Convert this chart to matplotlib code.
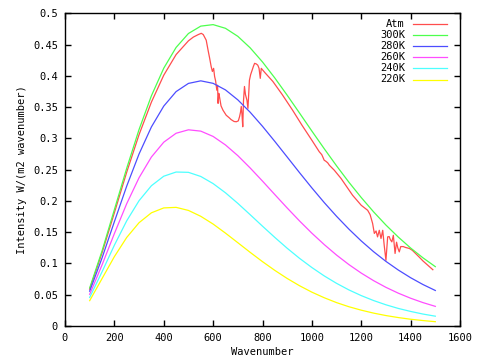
import matplotlib
matplotlib.use('Agg')
import matplotlib.pyplot as plt

# Planck curves (wavenumber, intensity)
wn = [100, 150, 200, 250, 300, 350, 400, 450, 500, 550, 600, 650, 700, 750,
      800, 850, 900, 950, 1000, 1050, 1100, 1150, 1200, 1250, 1300, 1350,
      1400, 1450, 1500]
t300 = [0.0608, 0.1199, 0.1860, 0.2523, 0.3142, 0.3681, 0.4122, 0.4454, 0.4677,
        0.4795, 0.4819, 0.4760, 0.4632, 0.4448, 0.4222, 0.3965, 0.3690, 0.3405,
        0.3117, 0.2835, 0.2561, 0.2299, 0.2054, 0.1825, 0.1614, 0.1422, 0.1247,
        0.1090, 0.0949]
t280 = [0.0557, 0.1087, 0.1668, 0.2237, 0.2751, 0.3183, 0.3516, 0.3748, 0.3879,
        0.3920, 0.3880, 0.3775, 0.3616, 0.3418, 0.3193, 0.2951, 0.2702, 0.2452,
        0.2208, 0.1974, 0.1754, 0.1549, 0.1360, 0.1188, 0.1033, 0.0895, 0.0772,
        0.0663, 0.0568]
t260 = [0.0506, 0.0976, 0.1478, 0.1956, 0.2371, 0.2702, 0.2939, 0.3082, 0.3137,
        0.3116, 0.3031, 0.2895, 0.2724, 0.2527, 0.2317, 0.2101, 0.1887, 0.1680,
        0.1484, 0.1302, 0.1134, 0.0982, 0.0846, 0.0725, 0.0618, 0.0525, 0.0444,
        0.0374, 0.0314]
t240 = [0.0456, 0.0866, 0.1292, 0.1682, 0.2004, 0.2243, 0.2395, 0.2462, 0.2457,
        0.2391, 0.2277, 0.2130, 0.1961, 0.1780, 0.1596, 0.1416, 0.1243, 0.1082,
        0.0935, 0.0801, 0.0682, 0.0577, 0.0486, 0.0407, 0.0339, 0.0281, 0.0233,
        0.0191, 0.0157]
t220 = [0.0405, 0.0758, 0.1109, 0.1416, 0.1652, 0.1810, 0.1888, 0.1897, 0.1848,
        0.1754, 0.1630, 0.1485, 0.1332, 0.1178, 0.1029, 0.0889, 0.0760, 0.0644,
        0.0541, 0.0452, 0.0374, 0.0308, 0.0253, 0.0206, 0.0167, 0.0135, 0.0108,
        0.0087, 0.0069]

# atmosphere spectrum
atm_wn = [100, 150, 200, 250, 300, 350, 400, 450, 500, 520, 540, 552, 560, 572,
          580, 586, 592, 597, 602, 606, 610, 615, 618, 620, 623, 626, 632, 640,
          653, 665, 673, 685, 694, 702, 707, 711, 714, 717, 720, 723, 727, 731,
          737, 741, 744, 747, 752, 758, 763, 768, 775, 781, 786, 791, 795, 810,
          842, 880, 922, 960, 1000, 1030, 1040, 1044, 1050, 1056, 1064, 1071,
          1091, 1118, 1165, 1200, 1226, 1236, 1246, 1253, 1260, 1266, 1273,
          1280, 1287, 1293, 1300, 1307, 1313, 1318, 1324, 1330, 1337, 1343,
          1348, 1354, 1360, 1370, 1380, 1395, 1407, 1420, 1434, 1450, 1470, 1490]
atm = [0.059, 0.117, 0.181, 0.246, 0.306, 0.358, 0.401, 0.434, 0.456, 0.462,
       0.466, 0.468, 0.466, 0.457, 0.440, 0.428, 0.415, 0.407, 0.412, 0.399,
       0.392, 0.377, 0.385, 0.356, 0.372, 0.366, 0.352, 0.345, 0.337, 0.333,
       0.330, 0.327, 0.3266, 0.328, 0.3346, 0.342, 0.351, 0.338, 0.3186, 0.360,
       0.383, 0.370, 0.361, 0.348, 0.370, 0.393, 0.402, 0.409, 0.415, 0.420,
       0.419, 0.417, 0.412, 0.396, 0.412, 0.405, 0.391, 0.370, 0.345, 0.321,
       0.297, 0.2786, 0.274, 0.2705, 0.265, 0.2636, 0.261, 0.257, 0.249, 0.236,
       0.209, 0.193, 0.185, 0.178, 0.164, 0.148, 0.152, 0.1425, 0.153, 0.140,
       0.153, 0.129, 0.105, 0.1425, 0.143, 0.138, 0.1345, 0.145, 0.116, 0.134,
       0.125, 0.1185, 0.127, 0.127, 0.1255, 0.124, 0.121, 0.116, 0.1105, 0.104,
       0.097, 0.090]

labels = ['Atm', '300K', '280K', '260K', '240K', '220K']
colors = ['#ff4d4d', '#4dff4d', '#4d4dff', '#ff4dff', '#4dffff', '#ffff00']

plt.rcParams['font.family'] = ['DejaVu Sans Mono']
plt.rcParams['font.size'] = 7.5

fig = plt.figure(figsize=(4.8, 3.6), dpi=100)
ax = fig.add_axes([65 / 480, 1 - 326 / 360, 395 / 480, 312.7 / 360])

series = [(atm_wn, atm), (wn, t300), (wn, t280), (wn, t260), (wn, t240), (wn, t220)]
for (xs, ys), c in zip(series, colors):
    ax.plot(xs, ys, color=c, lw=0.9)

ax.set_xlim(0, 1600)
ax.set_ylim(0, 0.5)
ax.set_xticks(range(0, 1601, 200))
ax.set_yticks([i * 0.05 for i in range(11)])
ax.set_yticklabels(['0', '0.05', '0.1', '0.15', '0.2', '0.25', '0.3', '0.35',
                    '0.4', '0.45', '0.5'])
ax.tick_params(direction='in', top=True, right=True, length=4, width=1, pad=5)
for s in ax.spines.values():
    s.set_linewidth(1)
ax.set_xlabel('Wavenumber', labelpad=3)
ax.set_ylabel('Intensity W/(m2 wavenumber)', labelpad=4)

# gnuplot-style key: right-aligned text, sample line after it
for i, (lab, c) in enumerate(zip(labels, colors)):
    yk = 1 - (24 - 13.3 + i * 11.1) / 312.7
    ax.text((405 - 65) / 395, yk, lab, transform=ax.transAxes,
            ha='right', va='center')
    ax.plot([(412.7 - 65) / 395, (447 - 65) / 395], [yk, yk], color=c, lw=0.9,
            transform=ax.transAxes)

fig.savefig('out.png', dpi=100)
